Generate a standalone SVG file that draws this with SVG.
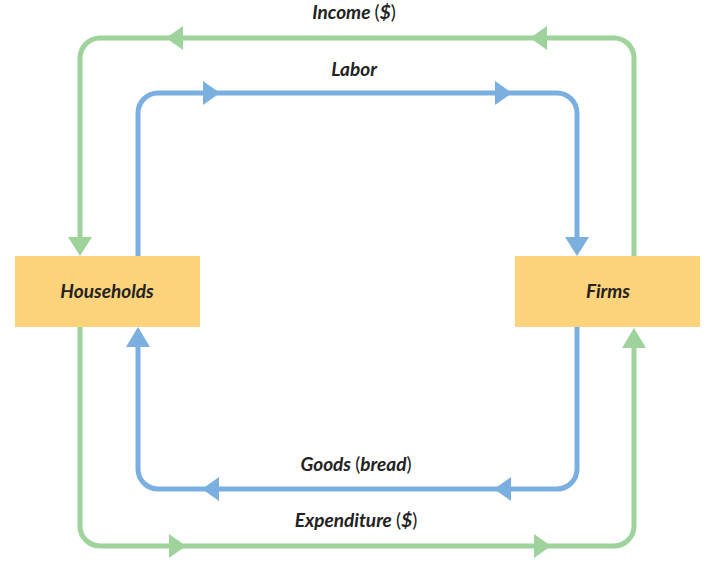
<svg xmlns="http://www.w3.org/2000/svg" width="710" height="562" viewBox="0 0 710 562">
<style>
.g{fill:none;stroke:#9fd39c;stroke-width:5}
.b{fill:none;stroke:#7aafe0;stroke-width:5}
.ga{fill:#9fd39c}
.ba{fill:#7aafe0}
.box{fill:#fdd37c}
.t{font-family:Lato,"Open Sans","Liberation Sans",sans-serif;font-size:19px;font-weight:bold;font-style:italic;fill:#222;text-anchor:middle}
.p{font-style:normal;font-weight:normal}
</style>
<rect width="710" height="562" fill="#fff"/>
<g id="connectors">
<g id="income">
<path class="g" d="M634,256 V58 A20,20 0 0 0 614,38 H100 A20,20 0 0 0 80,58 V238"/>
<polygon class="ga" points="68,237 92,237 80,256"/>
<polygon class="ga" points="166,38 183,26 183,50"/>
<polygon class="ga" points="530,38 547,26 547,50"/>
</g>
<g id="labor">
<path class="b" d="M138,256 V113 A20,20 0 0 1 158,93 H557 A20,20 0 0 1 577,113 V238"/>
<polygon class="ba" points="565,237 589,237 577,256"/>
<polygon class="ba" points="220,93 203,81 203,105"/>
<polygon class="ba" points="512,93 495,81 495,105"/>
</g>
<g id="goods">
<path class="b" d="M577,327 V469 A20,20 0 0 1 557,489 H158 A20,20 0 0 1 138,469 V346"/>
<polygon class="ba" points="126,347 150,347 138,327"/>
<polygon class="ba" points="202,489 219,477 219,501"/>
<polygon class="ba" points="494,489 511,477 511,501"/>
</g>
<g id="expenditure">
<path class="g" d="M80,327 V526 A20,20 0 0 0 100,546 H614 A20,20 0 0 0 634,526 V347"/>
<polygon class="ga" points="622,348 646,348 634,328"/>
<polygon class="ga" points="186,546 169,534 169,558"/>
<polygon class="ga" points="551,546 534,534 534,558"/>
</g>
<text class="t" x="354" y="19">Income <tspan class="p">(</tspan>$<tspan class="p">)</tspan></text>
<text class="t" x="354" y="76">Labor</text>
<text class="t" x="356" y="471">Goods <tspan class="p">(</tspan>bread<tspan class="p">)</tspan></text>
<text class="t" x="356" y="527">Expenditure <tspan class="p">(</tspan>$<tspan class="p">)</tspan></text>
</g>
<g id="households">
<rect class="box" x="15" y="256" width="185" height="71"/>
<text class="t" x="107" y="298">Households</text>
</g>
<g id="firms">
<rect class="box" x="515" y="256" width="185" height="71"/>
<text class="t" x="608" y="298">Firms</text>
</g>
</svg>
